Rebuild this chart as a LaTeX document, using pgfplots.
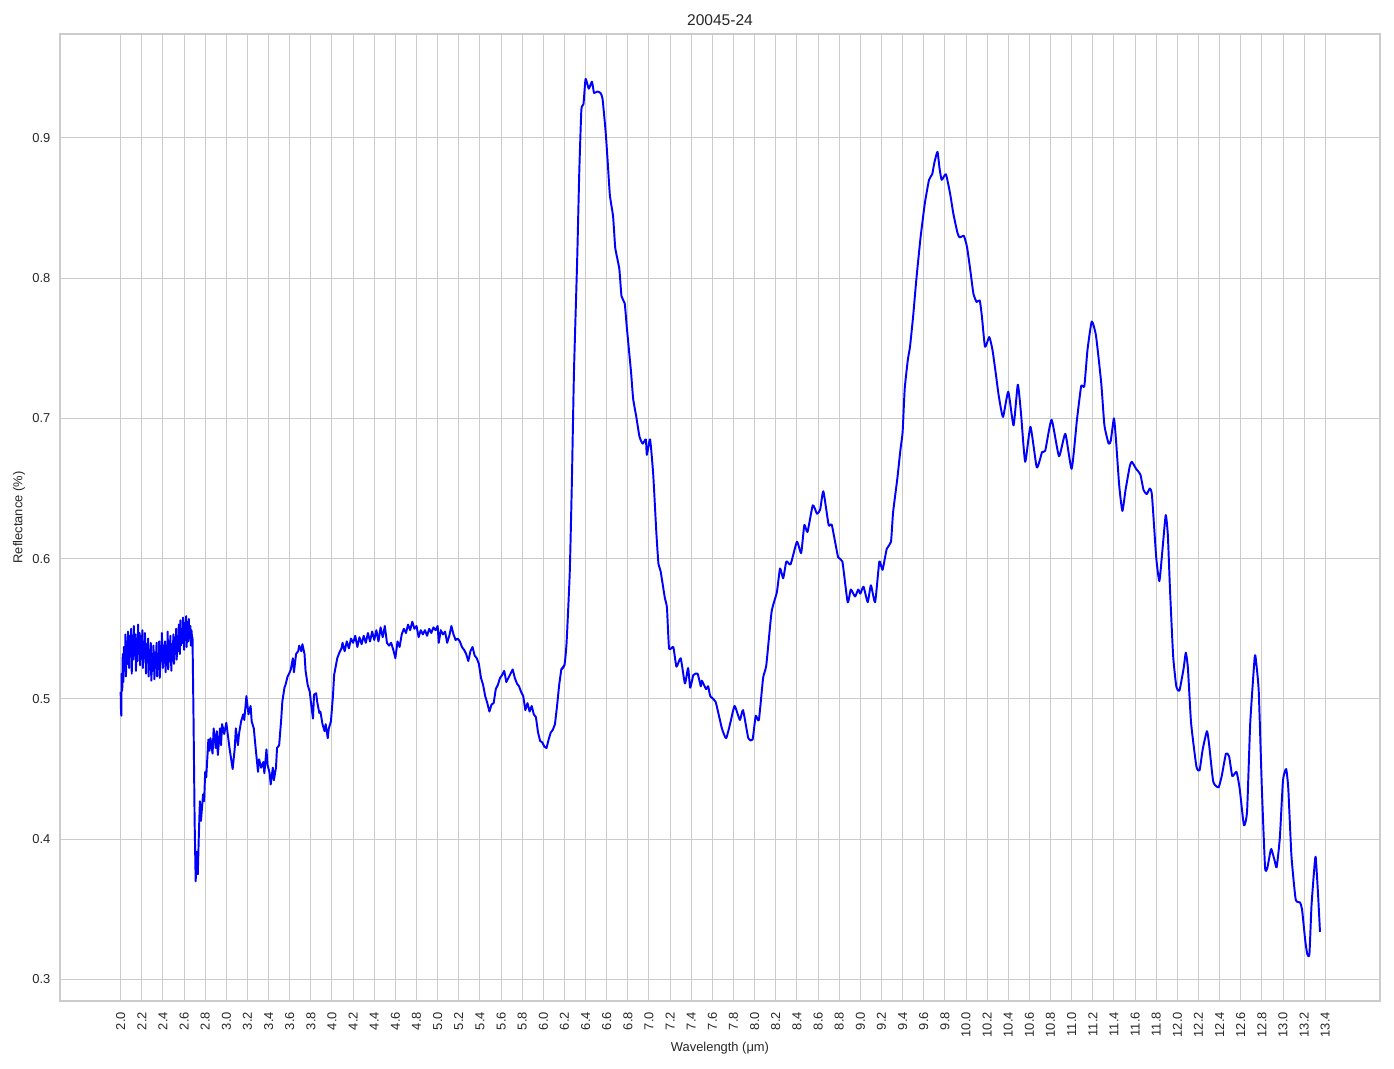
\documentclass[border=0pt]{standalone}
\usepackage{fontspec}
\setmainfont{Liberation Sans}
\usepackage{pgfplots}
\pgfplotsset{compat=1.18}
\definecolor{gridc}{HTML}{CCCCCC}
\definecolor{txt}{HTML}{262626}
\begin{document}
\begin{tikzpicture}
\begin{axis}[
  scale only axis, width=950.4pt, height=696.2pt,
  xmin=1.426, xmax=13.918, ymin=0.2847, ymax=0.974,
  xtick={2.0,2.2,2.4,2.6,2.8,3.0,3.2,3.4,3.6,3.8,4.0,4.2,4.4,4.6,4.8,5.0,5.2,5.4,5.6,5.8,6.0,6.2,6.4,6.6,6.8,7.0,7.2,7.4,7.6,7.8,8.0,8.2,8.4,8.6,8.8,9.0,9.2,9.4,9.6,9.8,10.0,10.2,10.4,10.6,10.8,11.0,11.2,11.4,11.6,11.8,12.0,12.2,12.4,12.6,12.8,13.0,13.2,13.4},
  ytick={0.3,0.4,0.5,0.6,0.7,0.8,0.9},
  grid=major, major grid style={draw=gridc, line width=0.72pt},
  axis line style={draw=gridc, line width=1.1pt},
  major tick length=0pt, tick style={draw=none},
  xticklabel style={font=\fontsize{9.3}{11}\selectfont, color=txt, rotate=90, anchor=east, inner sep=0pt},
  yticklabel style={font=\fontsize{9.3}{11}\selectfont, color=txt, anchor=east, inner sep=0pt},
  xticklabel shift=7.8pt, yticklabel shift=6.7pt,
  /pgf/number format/assume math mode=true,
  x tick label style={/pgf/number format/.cd, fixed, fixed zerofill, precision=1},
  y tick label style={/pgf/number format/.cd, fixed, fixed zerofill, precision=1},
  scaled ticks=false,
  title={20045-24},
  title style={at={(axis description cs:0.5,1)}, anchor=south, inner sep=0pt, font=\fontsize{11.2}{13}\selectfont, color=txt},
  xlabel={Wavelength (μm)},
  ylabel={Reflectance (\%)},
  xlabel style={at={(axis description cs:0.5,-0.0486)}, anchor=center, inner sep=0pt, font=\fontsize{9.3}{11}\selectfont, color=txt},
  ylabel style={at={(axis description cs:-0.0310,0.5)}, anchor=center, inner sep=0pt, font=\fontsize{9.3}{11}\selectfont, color=txt},
]
\addplot[color=blue, line width=1.4pt, line join=round, mark=none] coordinates {
(2.000,0.505)(2.003,0.493)(2.006,0.488)(2.010,0.518)(2.015,0.506)(2.020,0.532)(2.025,0.512)(2.030,0.537)(2.040,0.520)(2.045,0.546)(2.050,0.516)(2.060,0.541)(2.065,0.525)(2.070,0.548)(2.080,0.522)(2.085,0.545)(2.090,0.530)(2.100,0.550)(2.105,0.518)(2.110,0.540)(2.120,0.528)(2.125,0.552)(2.130,0.531)(2.140,0.546)(2.145,0.520)(2.150,0.543)(2.160,0.527)(2.165,0.553)(2.170,0.532)(2.180,0.547)(2.185,0.524)(2.190,0.545)(2.200,0.530)(2.205,0.549)(2.210,0.522)(2.220,0.541)(2.225,0.529)(2.230,0.547)(2.240,0.518)(2.245,0.539)(2.250,0.526)(2.260,0.543)(2.265,0.516)(2.270,0.535)(2.280,0.523)(2.285,0.540)(2.290,0.513)(2.300,0.532)(2.305,0.520)(2.310,0.538)(2.320,0.514)(2.325,0.533)(2.330,0.522)(2.340,0.540)(2.345,0.516)(2.350,0.531)(2.360,0.524)(2.365,0.541)(2.370,0.515)(2.380,0.534)(2.385,0.527)(2.390,0.547)(2.400,0.522)(2.405,0.538)(2.410,0.528)(2.420,0.541)(2.425,0.519)(2.430,0.535)(2.440,0.524)(2.445,0.548)(2.450,0.521)(2.460,0.537)(2.465,0.527)(2.470,0.545)(2.480,0.520)(2.485,0.539)(2.490,0.529)(2.500,0.546)(2.505,0.525)(2.510,0.540)(2.520,0.532)(2.525,0.550)(2.530,0.528)(2.540,0.545)(2.545,0.534)(2.550,0.553)(2.560,0.532)(2.565,0.556)(2.570,0.538)(2.580,0.550)(2.585,0.540)(2.590,0.558)(2.600,0.535)(2.605,0.554)(2.610,0.542)(2.620,0.559)(2.625,0.537)(2.630,0.555)(2.640,0.541)(2.645,0.557)(2.650,0.543)(2.660,0.552)(2.665,0.538)(2.670,0.549)(2.675,0.544)
(2.68,0.544)(2.69,0.484)(2.70,0.413)(2.71,0.370)(2.72,0.391)(2.73,0.375)(2.74,0.403)(2.75,0.427)(2.76,0.413)(2.78,0.432)(2.79,0.427)(2.80,0.448)(2.81,0.444)(2.83,0.471)(2.84,0.463)(2.85,0.472)(2.87,0.461)(2.88,0.479)(2.90,0.465)(2.91,0.477)(2.92,0.460)(2.94,0.479)(2.95,0.467)(2.96,0.482)(2.98,0.475)(3.00,0.483)(3.01,0.477)(3.03,0.465)(3.04,0.460)(3.06,0.450)(3.08,0.465)(3.09,0.479)(3.11,0.467)(3.12,0.475)(3.14,0.484)(3.16,0.489)(3.17,0.485)(3.19,0.502)(3.21,0.489)(3.23,0.495)(3.24,0.484)(3.26,0.479)(3.28,0.463)(3.30,0.448)(3.31,0.457)(3.33,0.451)(3.35,0.455)(3.36,0.447)(3.38,0.464)(3.39,0.453)(3.41,0.447)(3.42,0.439)(3.44,0.451)(3.45,0.442)(3.47,0.451)(3.48,0.465)(3.50,0.467)(3.52,0.486)(3.53,0.498)(3.55,0.508)(3.56,0.510)(3.58,0.516)(3.60,0.519)(3.61,0.521)(3.63,0.529)(3.64,0.519)(3.66,0.532)(3.68,0.534)(3.69,0.538)(3.71,0.534)(3.72,0.539)(3.74,0.532)(3.75,0.520)(3.77,0.510)(3.79,0.505)(3.80,0.498)(3.82,0.486)(3.83,0.503)(3.85,0.504)(3.86,0.498)(3.88,0.490)(3.89,0.491)(3.91,0.482)(3.93,0.477)(3.94,0.482)(3.96,0.472)(3.97,0.479)(3.99,0.484)(4.01,0.503)(4.02,0.517)(4.04,0.525)(4.05,0.529)(4.07,0.533)(4.09,0.536)(4.10,0.540)(4.12,0.534)
(4.14,0.541)(4.16,0.536)(4.18,0.543)(4.20,0.540)(4.22,0.545)(4.24,0.537)(4.26,0.544)(4.28,0.539)(4.30,0.545)(4.32,0.540)(4.34,0.547)(4.36,0.541)(4.38,0.548)(4.40,0.542)(4.42,0.549)(4.44,0.541)(4.46,0.551)(4.48,0.544)(4.50,0.552)(4.52,0.540)(4.54,0.538)(4.56,0.540)(4.58,0.535)(4.60,0.529)(4.62,0.541)(4.64,0.537)(4.66,0.546)(4.68,0.550)(4.70,0.547)(4.72,0.553)(4.74,0.549)(4.76,0.555)(4.78,0.550)(4.80,0.552)(4.82,0.544)(4.84,0.549)(4.86,0.546)(4.88,0.549)(4.90,0.545)(4.92,0.550)(4.94,0.547)(4.96,0.551)(4.98,0.549)(5.00,0.552)(5.01,0.540)(5.03,0.549)(5.05,0.546)(5.07,0.548)(5.09,0.540)(5.11,0.545)(5.13,0.552)(5.15,0.546)(5.17,0.542)(5.19,0.543)(5.21,0.541)(5.23,0.537)(5.25,0.535)(5.27,0.532)(5.29,0.527)(5.31,0.534)(5.33,0.537)(5.35,0.531)(5.37,0.529)(5.39,0.525)(5.41,0.515)(5.43,0.510)(5.45,0.502)(5.47,0.497)(5.49,0.491)(5.51,0.496)(5.53,0.497)(5.55,0.507)(5.57,0.510)(5.59,0.515)(5.61,0.517)(5.63,0.520)(5.65,0.512)(5.67,0.515)(5.69,0.518)(5.71,0.521)(5.73,0.515)(5.75,0.511)(5.77,0.509)(5.79,0.505)(5.81,0.502)(5.83,0.492)(5.85,0.497)(5.87,0.491)(5.89,0.495)(5.91,0.489)(5.93,0.487)(5.95,0.476)(5.97,0.470)(5.99,0.469)(6.01,0.466)(6.03,0.465)(6.05,0.471)(6.07,0.476)(6.09,0.478)(6.11,0.482)(6.13,0.495)(6.15,0.510)(6.17,0.521)(6.20,0.524)
};
\addplot[color=blue, line width=1.4pt, line join=round, mark=none, smooth, tension=0.3] coordinates {
(6.17,0.521)(6.20,0.524)(6.22,0.540)
(6.25,0.590)(6.27,0.654)(6.29,0.733)(6.32,0.812)(6.34,0.875)(6.36,0.920)(6.38,0.924)(6.40,0.942)(6.43,0.935)(6.46,0.940)(6.48,0.932)(6.51,0.933)(6.54,0.932)(6.56,0.928)(6.59,0.904)(6.61,0.882)(6.63,0.859)(6.66,0.844)(6.68,0.822)(6.70,0.814)(6.72,0.806)(6.74,0.787)(6.77,0.782)(6.79,0.765)(6.83,0.733)(6.85,0.714)(6.88,0.701)(6.91,0.687)(6.94,0.682)(6.97,0.685)(6.98,0.674)(7.01,0.685)(7.04,0.660)
(7.07,0.618)(7.09,0.596)(7.11,0.591)(7.15,0.572)(7.17,0.565)(7.19,0.536)(7.23,0.537)(7.26,0.523)(7.30,0.529)(7.34,0.511)(7.37,0.522)(7.39,0.508)(7.42,0.517)(7.46,0.518)(7.49,0.509)(7.50,0.513)(7.54,0.507)(7.56,0.509)(7.58,0.502)(7.63,0.498)(7.69,0.479)(7.73,0.472)(7.77,0.483)(7.81,0.495)(7.86,0.485)(7.89,0.492)(7.94,0.472)(7.98,0.471)(8.01,0.488)(8.04,0.485)(8.08,0.515)(8.11,0.524)(8.16,0.562)(8.21,0.576)(8.24,0.593)(8.27,0.586)(8.30,0.598)(8.34,0.596)(8.40,0.612)(8.44,0.604)(8.47,0.624)(8.50,0.619)(8.55,0.638)(8.59,0.632)(8.62,0.635)(8.65,0.648)(8.70,0.624)(8.73,0.624)(8.79,0.601)(8.83,0.598)(8.88,0.569)(8.91,0.578)(8.95,0.573)(8.98,0.578)(9.00,0.575)(9.03,0.580)(9.07,0.569)(9.10,0.581)(9.14,0.569)(9.18,0.598)(9.21,0.592)(9.25,0.607)(9.29,0.612)(9.31,0.633)(9.35,0.657)(9.38,0.678)(9.40,0.690)
(9.42,0.721)(9.45,0.742)(9.47,0.751)(9.50,0.773)(9.53,0.799)(9.57,0.829)(9.61,0.853)(9.65,0.870)(9.68,0.874)(9.70,0.882)(9.73,0.890)(9.75,0.878)(9.77,0.870)(9.81,0.874)(9.85,0.860)(9.88,0.846)(9.92,0.832)(9.94,0.829)(9.98,0.830)(10.01,0.822)(10.04,0.806)(10.07,0.789)(10.10,0.783)(10.13,0.784)(10.15,0.773)(10.18,0.751)(10.22,0.758)(10.25,0.749)(10.28,0.733)(10.31,0.716)(10.35,0.701)(10.40,0.719)(10.45,0.695)(10.49,0.724)(10.52,0.704)(10.56,0.669)(10.61,0.694)(10.67,0.665)(10.72,0.676)(10.75,0.677)(10.81,0.699)(10.88,0.673)(10.94,0.689)(11.00,0.664)(11.05,0.699)(11.09,0.723)(11.12,0.723)(11.15,0.749)(11.19,0.769)(11.23,0.759)(11.28,0.725)(11.31,0.695)(11.35,0.682)(11.37,0.684)(11.40,0.700)(11.42,0.684)
(11.45,0.652)(11.48,0.634)(11.51,0.649)(11.55,0.666)(11.57,0.669)(11.61,0.664)(11.65,0.660)(11.68,0.649)(11.71,0.646)(11.74,0.650)(11.76,0.645)(11.80,0.601)(11.83,0.584)(11.86,0.607)(11.89,0.631)(11.91,0.617)(11.93,0.579)(11.96,0.531)(11.99,0.509)(12.02,0.506)(12.06,0.522)(12.08,0.533)(12.10,0.522)(12.13,0.483)(12.18,0.452)(12.21,0.449)(12.24,0.464)(12.28,0.477)(12.30,0.468)(12.34,0.441)(12.39,0.437)(12.42,0.445)(12.46,0.461)(12.49,0.459)(12.52,0.445)(12.56,0.448)(12.59,0.436)(12.63,0.410)(12.66,0.420)(12.69,0.483)(12.73,0.528)(12.74,0.530)(12.77,0.506)(12.80,0.436)(12.83,0.380)(12.85,0.379)(12.88,0.391)(12.89,0.393)(12.92,0.385)(12.94,0.380)(12.97,0.401)(13.00,0.442)(13.03,0.450)(13.05,0.436)(13.08,0.388)(13.12,0.357)(13.16,0.355)(13.18,0.350)(13.21,0.328)(13.23,0.318)(13.25,0.318)(13.27,0.353)(13.30,0.383)(13.31,0.387)(13.33,0.363)(13.35,0.334)
};
\end{axis}
\pgfresetboundingbox
\path[use as bounding box] ([shift={(-43.2pt,-48.96pt)}]current axis.south west) rectangle ([shift={(10.08pt,24.48pt)}]current axis.north east);
\end{tikzpicture}
\end{document}
